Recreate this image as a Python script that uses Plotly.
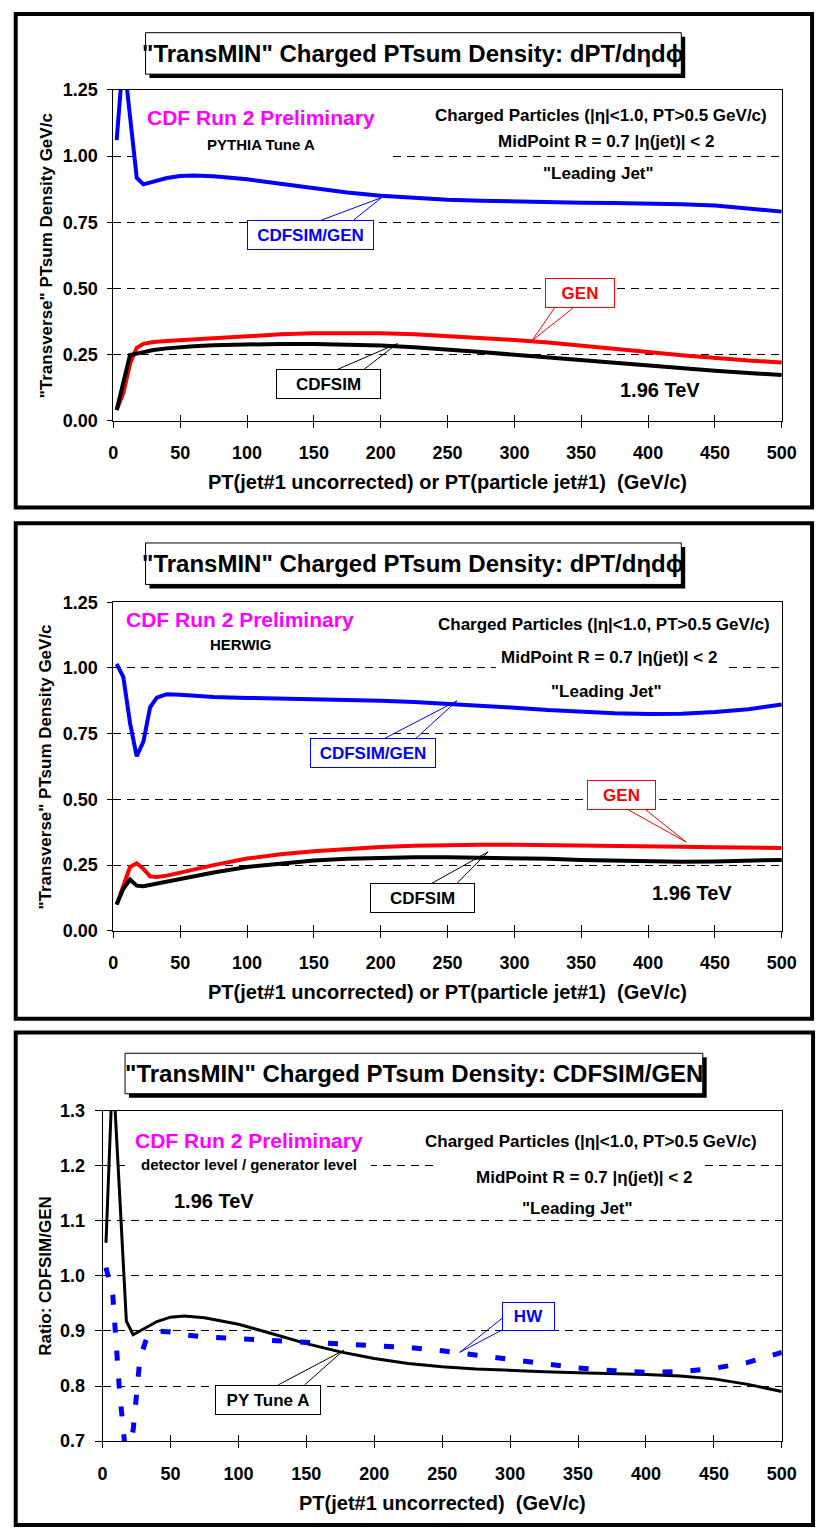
import plotly.graph_objects as go

# ---------------- data ----------------
pt_pythia = [2.5, 7.5, 12.5, 17.5, 22.5, 30, 40, 50, 60, 75, 100, 125, 150, 175, 200,
             225, 250, 275, 300, 325, 350, 375, 400, 425, 450, 475, 500]
pythia_gen = [0.04, 0.105, 0.215, 0.275, 0.290, 0.297, 0.301, 0.304, 0.307, 0.311, 0.320, 0.326,
              0.330, 0.331, 0.330, 0.326, 0.320, 0.313, 0.305, 0.295, 0.284, 0.271, 0.259,
              0.247, 0.236, 0.227, 0.220]
pythia_cdfsim = [0.04, 0.145, 0.248, 0.253, 0.260, 0.267, 0.273, 0.278, 0.281, 0.285, 0.289, 0.290,
                 0.290, 0.288, 0.284, 0.277, 0.269, 0.259, 0.249, 0.239, 0.228, 0.217, 0.206,
                 0.197, 0.188, 0.180, 0.172]
pythia_ratio = [1.06, 1.38, 1.15, 0.918, 0.893, 0.903, 0.917, 0.925, 0.927, 0.924, 0.912, 0.895,
                0.877, 0.862, 0.850, 0.841, 0.835, 0.831, 0.828, 0.826, 0.824, 0.823, 0.821,
                0.818, 0.813, 0.803, 0.790]

pt_herwig = [2.5, 7.5, 12.5, 17.5, 22.5, 27.5, 32.5, 40, 50, 60, 75, 100, 125, 150, 175, 200,
             225, 250, 275, 300, 325, 350, 375, 400, 425, 450, 475, 500]
herwig_gen = [0.10, 0.17, 0.243, 0.257, 0.236, 0.207, 0.205, 0.210, 0.222, 0.234, 0.250, 0.275,
              0.291, 0.303, 0.312, 0.319, 0.324, 0.327, 0.328, 0.328, 0.327, 0.325, 0.323,
              0.321, 0.320, 0.318, 0.317, 0.315]
herwig_cdfsim = [0.10, 0.16, 0.195, 0.172, 0.170, 0.175, 0.180, 0.187, 0.198, 0.208, 0.222, 0.243,
                 0.257, 0.268, 0.274, 0.278, 0.280, 0.280, 0.279, 0.277, 0.274, 0.270, 0.267,
                 0.264, 0.263, 0.264, 0.266, 0.270]
herwig_ratio = [1.015, 0.965, 0.79, 0.664, 0.72, 0.85, 0.887, 0.900, 0.898, 0.893, 0.889, 0.886,
                0.884, 0.881, 0.878, 0.875, 0.870, 0.864, 0.856, 0.849, 0.840, 0.833, 0.828,
                0.825, 0.826, 0.832, 0.843, 0.861]

x_ticks = [0, 50, 100, 150, 200, 250, 300, 350, 400, 450, 500]
density_ticks = [0.0, 0.25, 0.50, 0.75, 1.00, 1.25]
ratio_ticks = [0.7, 0.8, 0.9, 1.0, 1.1, 1.2, 1.3]

# ---------------- layout helpers ----------------
W, H = 830, 1538
FONT = "Liberation Sans, Arial, Helvetica, sans-serif"
BLUE, RED, BLACK, MAGENTA = "#0000FF", "#FF0000", "#000000", "#FF00FF"
X_RANGE = [0, 500]


def fx(p):
    return p / W


def fy(p):
    return 1 - p / H


info1 = "Charged Particles (|η|<1.0, PT>0.5 GeV/c)"
info2 = "MidPoint R = 0.7 |η(jet)| < 2"
info3 = '"Leading Jet"'

panels = [
    dict(plot=(111, 796, 81, 416), yrange=[0, 1.25], yticks=density_ticks, yfmt=".2f", ticklen=5,
         border=(11, 827, 4, 504), tbox=(144, 693, 23, 65),
         title='"TransMIN" Charged PTsum Density: dPT/dηdϕ',
         ytitle='"Transverse" PTsum Density GeV/c', ytpos=(42, 248.5),
         xtitle="PT(jet#1 uncorrected) or PT(particle jet#1)  (GeV/c)", xtpos=(453.5, 478),
         texts=[("CDF Run 2 Preliminary", MAGENTA, 21, 262, 109),
                ("PYTHIA Tune A", BLACK, 15, 262, 136),
                (info1, BLACK, 17, 611, 107),
                (info2, BLACK, 17, 616, 133),
                (info3, BLACK, 17, 608, 166),
                ("1.96 TeV", BLACK, 20, 671, 385)],
         masks=[(132, 392, 95, 153)],
         callouts=[("CDFSIM/GEN", BLUE, (250, 377, 213, 243), ((324, 213), (357, 213)), (386, 190)),
                   ("GEN", RED, (554, 624, 272, 302), ((563, 302), (582, 302)), (540, 335)),
                   ("CDFSIM", BLACK, (279, 384, 364, 394), ((341, 364), (368, 364)), (402, 338))]),
    dict(plot=(111, 796, 600, 933), yrange=[0, 1.25], yticks=density_ticks, yfmt=".2f", ticklen=5,
         border=(11, 827, 520, 1022), tbox=(144, 693, 540, 582),
         title='"TransMIN" Charged PTsum Density: dPT/dηdϕ',
         ytitle='"Transverse" PTsum Density GeV/c', ytpos=(42, 766.5),
         xtitle="PT(jet#1 uncorrected) or PT(particle jet#1)  (GeV/c)", xtpos=(453.5, 995),
         texts=[("CDF Run 2 Preliminary", MAGENTA, 21, 241, 618),
                ("HERWIG", BLACK, 15, 241, 643),
                (info1, BLACK, 17, 614, 623),
                (info2, BLACK, 17, 619, 656),
                (info3, BLACK, 17, 616, 690),
                ("1.96 TeV", BLACK, 20, 704, 895)],
         masks=[(503, 738, 645, 670)],
         callouts=[("CDFSIM/GEN", BLUE, (314, 440, 738, 768), ((389, 738), (421, 738)), (463, 700)),
                   ("GEN", RED, (597, 666, 780, 810), ((638, 810), (656, 810)), (698, 843)),
                   ("CDFSIM", BLACK, (375, 480, 885, 915), ((437, 885), (463, 885)), (495, 853))]),
    dict(plot=(100, 796, 1115, 1450), yrange=[0.7, 1.3], yticks=ratio_ticks, yfmt=".1f", ticklen=7,
         border=(11, 828, 1036, 1535), tbox=(123, 715, 1057, 1098),
         title='"TransMIN" Charged PTsum Density: CDFSIM/GEN',
         ytitle="Ratio: CDFSIM/GEN", ytpos=(42, 1282.5),
         xtitle="PT(jet#1 uncorrected)  (GeV/c)", xtpos=(448, 1513),
         texts=[("CDF Run 2 Preliminary", MAGENTA, 21, 250, 1145),
                ("detector level / generator level", BLACK, 15, 250, 1170),
                ("1.96 TeV", BLACK, 20, 214, 1207),
                (info1, BLACK, 17, 600, 1146),
                (info2, BLACK, 17, 593, 1183),
                (info3, BLACK, 17, 587, 1214)],
         masks=[(127, 375, 1160, 1181), (440, 712, 1162, 1183)],
         callouts=[("HW", BLUE, (510, 563, 1309, 1338), ((510, 1325), (510, 1337)), (466, 1360)),
                   ("PY Tune A", BLACK, (217, 323, 1393, 1423), ((280, 1393), (307, 1393)), (347, 1358))]),
]

fig = go.Figure()

# ---------------- traces ----------------
fig.add_trace(go.Scatter(x=pt_pythia, y=pythia_ratio, mode="lines", line=dict(color=BLUE, width=4),
                         xaxis="x", yaxis="y"))
fig.add_trace(go.Scatter(x=pt_pythia, y=pythia_gen, mode="lines", line=dict(color=RED, width=4),
                         xaxis="x", yaxis="y"))
fig.add_trace(go.Scatter(x=pt_pythia, y=pythia_cdfsim, mode="lines", line=dict(color=BLACK, width=4),
                         xaxis="x", yaxis="y"))

fig.add_trace(go.Scatter(x=pt_herwig, y=herwig_ratio, mode="lines", line=dict(color=BLUE, width=4),
                         xaxis="x2", yaxis="y2"))
fig.add_trace(go.Scatter(x=pt_herwig, y=herwig_gen, mode="lines", line=dict(color=RED, width=4),
                         xaxis="x2", yaxis="y2"))
fig.add_trace(go.Scatter(x=pt_herwig, y=herwig_cdfsim, mode="lines", line=dict(color=BLACK, width=4),
                         xaxis="x2", yaxis="y2"))

fig.add_trace(go.Scatter(x=pt_pythia, y=pythia_ratio, mode="lines", line=dict(color=BLACK, width=3),
                         xaxis="x3", yaxis="y3"))
fig.add_trace(go.Scatter(x=pt_herwig, y=herwig_ratio, mode="lines",
                         line=dict(color=BLUE, width=5, dash="10px,18px"),
                         xaxis="x3", yaxis="y3"))

# ---------------- axes, shapes, annotations ----------------
layout = dict(width=W, height=H, margin=dict(l=0, r=0, t=0, b=0, pad=0), autosize=False,
              paper_bgcolor="white", plot_bgcolor="white", showlegend=False,
              font=dict(family=FONT, color=BLACK))
shapes = []
annotations = []

tickfont = dict(family=FONT, size=18, color=BLACK, weight="bold")

for i, p in enumerate(panels):
    n = "" if i == 0 else str(i + 1)
    x0, x1, y0, y1 = p["plot"]
    yr0, yr1 = p["yrange"]
    ov = str(i + 4)

    def dx(px, x0=x0, x1=x1):
        return X_RANGE[0] + (px - x0) / (x1 - x0) * (X_RANGE[1] - X_RANGE[0])

    def dy(py, y0=y0, y1=y1, yr0=yr0, yr1=yr1):
        return yr0 + (y1 - py) / (y1 - y0) * (yr1 - yr0)

    layout["xaxis" + n] = dict(domain=[fx(x0), fx(x1)], anchor="y" + n, range=X_RANGE,
                               tickmode="array", tickvals=x_ticks, ticks="outside", ticklen=6,
                               tickwidth=1, tickcolor=BLACK, showline=True, mirror=True,
                               linecolor=BLACK, linewidth=1, showgrid=False, zeroline=False,
                               tickfont=tickfont, ticklabelstandoff=10)
    layout["xaxis" + ov] = dict(overlaying="x" + n, anchor="y" + n, side="bottom", range=X_RANGE,
                                tickmode="array", tickvals=x_ticks, ticks="inside", ticklen=6,
                                tickwidth=1, tickcolor=BLACK, showticklabels=False,
                                showline=False, showgrid=False, zeroline=False)
    layout["yaxis" + n] = dict(domain=[fy(y1), fy(y0)], anchor="x" + n, range=p["yrange"],
                               tickmode="array", tickvals=p["yticks"], tickformat=p["yfmt"],
                               ticks="outside", ticklen=p["ticklen"], tickwidth=1, tickcolor=BLACK,
                               showline=True, mirror=True, linecolor=BLACK, linewidth=1,
                               showgrid=True, gridcolor=BLACK, gridwidth=1, griddash="8px,6px",
                               zeroline=False, tickfont=tickfont, ticklabelstandoff=6)
    fig.add_trace(go.Scatter(x=[None], y=[None], mode="lines", xaxis="x" + ov, yaxis="y" + n,
                             hoverinfo="skip"))

    # panel border
    bx0, bx1, by0, by1 = p["border"]
    shapes.append(dict(type="rect", xref="paper", yref="paper", x0=fx(bx0), x1=fx(bx1),
                       y0=fy(by1), y1=fy(by0), line=dict(color=BLACK, width=4),
                       fillcolor="rgba(0,0,0,0)", layer="above"))
    # title box with shadow
    tx0, tx1, ty0, ty1 = p["tbox"]
    shapes.append(dict(type="rect", xref="paper", yref="paper", x0=fx(tx0 + 4), x1=fx(tx1 + 4),
                       y0=fy(ty1 + 4), y1=fy(ty0 + 4), line=dict(width=0), fillcolor=BLACK,
                       layer="above"))
    shapes.append(dict(type="rect", xref="paper", yref="paper", x0=fx(tx0), x1=fx(tx1),
                       y0=fy(ty1), y1=fy(ty0), line=dict(color=BLACK, width=1), fillcolor="white",
                       layer="above"))
    annotations.append(dict(text="<b>" + p["title"] + "</b>", xref="paper", yref="paper",
                            x=fx((tx0 + tx1) / 2), y=fy((ty0 + ty1) / 2), xanchor="center",
                            yanchor="middle", showarrow=False,
                            font=dict(family=FONT, size=24, color=BLACK)))
    # white masks behind text boxes (above grid, below traces), in this subplot's axes
    for (mx0, mx1, my0, my1) in p["masks"]:
        shapes.append(dict(type="rect", xref="x" + n, yref="y" + n, x0=dx(mx0), x1=dx(mx1),
                           y0=dy(my1), y1=dy(my0), line=dict(width=0), fillcolor="white",
                           layer="between"))
    # texts
    for (t, c, s, cx, cy) in p["texts"]:
        annotations.append(dict(text="<b>" + t + "</b>", xref="paper", yref="paper", x=fx(cx),
                                y=fy(cy), xanchor="center", yanchor="middle", showarrow=False,
                                font=dict(family=FONT, size=s, color=c)))
    # axis titles
    annotations.append(dict(text="<b>" + p["ytitle"] + "</b>", xref="paper", yref="paper",
                            x=fx(p["ytpos"][0]), y=fy(p["ytpos"][1]), xanchor="center",
                            yanchor="middle", textangle=-90, showarrow=False,
                            font=dict(family=FONT, size=17, color=BLACK)))
    annotations.append(dict(text="<b>" + p["xtitle"] + "</b>", xref="paper", yref="paper",
                            x=fx(p["xtpos"][0]), y=fy(p["xtpos"][1]), xanchor="center",
                            yanchor="middle", showarrow=False,
                            font=dict(family=FONT, size=20, color=BLACK)))
    # callouts
    for (t, c, (cx0, cx1, cy0, cy1), (a, b), tip) in p["callouts"]:
        path = "M {} {} L {} {} L {} {}".format(fx(a[0]), fy(a[1]), fx(tip[0]), fy(tip[1]),
                                                fx(b[0]), fy(b[1]))
        shapes.append(dict(type="path", xref="paper", yref="paper", path=path,
                           line=dict(color=c, width=1), layer="above"))
        annotations.append(dict(text="<b>" + t + "</b>", xref="paper", yref="paper",
                                x=fx((cx0 + cx1) / 2), y=fy((cy0 + cy1) / 2), xanchor="center",
                                yanchor="middle", showarrow=False, width=cx1 - cx0 - 2,
                                height=cy1 - cy0 - 2, borderpad=0, borderwidth=1, bordercolor=c,
                                bgcolor="white", font=dict(family=FONT, size=17, color=c)))

layout["shapes"] = shapes
layout["annotations"] = annotations
fig.update_layout(**layout)

fig.write_html("out.html")
